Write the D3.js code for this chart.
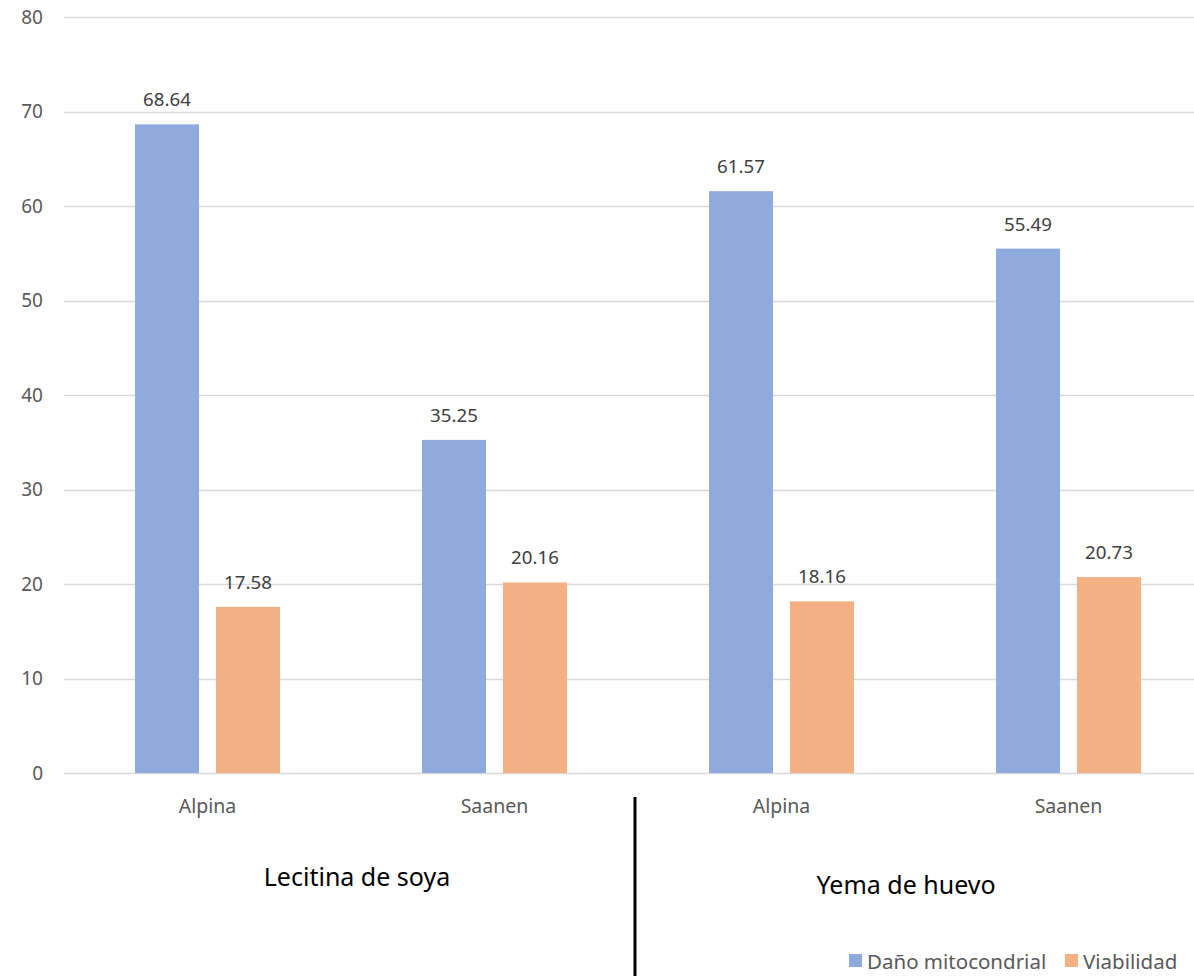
<!DOCTYPE html>
<html>
<head>
<meta charset="utf-8">
<script src="https://cdn.jsdelivr.net/npm/d3@7"></script>
<style>
  body { margin: 0; background: #fff; }
  svg text { font-family: "Noto Sans", "Open Sans", sans-serif; }
</style>
</head>
<body>
<div id="chart"></div>
<script>
const categories = ['Alpina', 'Saanen', 'Alpina', 'Saanen'];
const groups = ['Lecitina de soya', 'Yema de huevo'];
const series = ['Daño mitocondrial', 'Viabilidad'];
const danoValues = [68.64, 35.25, 61.57, 55.49];
const viabValues = [17.58, 20.16, 18.16, 20.73];
const yTicks = [0, 10, 20, 30, 40, 50, 60, 70, 80];
const colors = ['#8FAADC', '#F4B183'];

let width = 1194,
    height = 976;

let svg = d3.select('#chart').append('svg')
    .attr('width', width)
    .attr('height', height);

let data = categories.map((c, i) => ({
    idx: i,
    cat: c,
    values: [danoValues[i], viabValues[i]]
}));

let xScale = d3.scaleBand()
    .domain(d3.range(categories.length))
    .range([64, 1212])
    .padding(0);

let xInner = d3.scaleBand()
    .domain(series)
    .range([71, 216])
    .paddingInner(17 / 81);

let yScale = d3.scaleLinear()
    .domain([0, 80])
    .range([773, 17]);

// gridlines
svg.append('g')
    .selectAll('line')
    .data(yTicks)
    .join('line')
    .attr('x1', 64)
    .attr('x2', width)
    .attr('y1', d => Math.round(yScale(d)) + 0.5)
    .attr('y2', d => Math.round(yScale(d)) + 0.5)
    .attr('stroke', '#d9d9d9')
    .attr('stroke-width', 1.3);

// y tick labels
svg.append('g')
    .selectAll('text')
    .data(yTicks)
    .join('text')
    .attr('x', 43)
    .attr('y', d => yScale(d))
    .attr('dy', '0.35em')
    .attr('text-anchor', 'end')
    .attr('font-size', 19)
    .attr('fill', '#595959')
    .text(d => d);

// bars
let groupG = svg.append('g')
    .selectAll('g')
    .data(data)
    .join('g')
    .attr('transform', d => `translate(${xScale(d.idx)},0)`);

groupG.selectAll('rect')
    .data(d => d.values.map((v, j) => ({s: series[j], v: v, j: j})))
    .join('rect')
    .attr('x', d => xInner(d.s))
    .attr('width', xInner.bandwidth())
    .attr('y', d => yScale(d.v))
    .attr('height', d => yScale(0) - yScale(d.v))
    .attr('fill', d => colors[d.j]);

groupG.selectAll('text.val')
    .data(d => d.values.map((v, j) => ({s: series[j], v: v, j: j})))
    .join('text')
    .attr('class', 'val')
    .attr('x', d => xInner(d.s) + xInner.bandwidth() / 2)
    .attr('y', d => yScale(d.v) - 18)
    .attr('text-anchor', 'middle')
    .attr('font-size', 18.7)
    .attr('fill', '#404040')
    .text(d => d.v.toFixed(2));

// category labels
svg.append('g')
    .selectAll('text')
    .data(data)
    .join('text')
    .attr('x', d => xScale(d.idx) + xScale.bandwidth() / 2)
    .attr('y', 813)
    .attr('text-anchor', 'middle')
    .attr('font-size', 19.5)
    .attr('fill', '#595959')
    .text(d => d.cat);

// group labels
svg.append('g')
    .selectAll('text')
    .data(groups)
    .join('text')
    .attr('x', (d, i) => i === 0 ? 357 : 906)
    .attr('y', (d, i) => i === 0 ? 886 : 894)
    .attr('text-anchor', 'middle')
    .attr('font-size', 25)
    .attr('fill', '#000')
    .text(d => d);

// separator
svg.append('line')
    .attr('x1', 635)
    .attr('x2', 635)
    .attr('y1', 797)
    .attr('y2', height)
    .attr('stroke', '#000')
    .attr('stroke-width', 3);

// legend
let legend = svg.append('g')
    .attr('transform', 'translate(849,954)');

let legendX = [0, 216];
let legItem = legend.selectAll('g')
    .data(series)
    .join('g')
    .attr('transform', (d, i) => `translate(${legendX[i]},0)`);

legItem.append('rect')
    .attr('width', 13)
    .attr('height', 13)
    .attr('fill', (d, i) => colors[i]);

legItem.append('text')
    .attr('x', 18)
    .attr('y', 8)
    .attr('dy', '0.35em')
    .attr('font-size', 20.5)
    .attr('fill', '#595959')
    .text(d => d);
</script>
</body>
</html>
